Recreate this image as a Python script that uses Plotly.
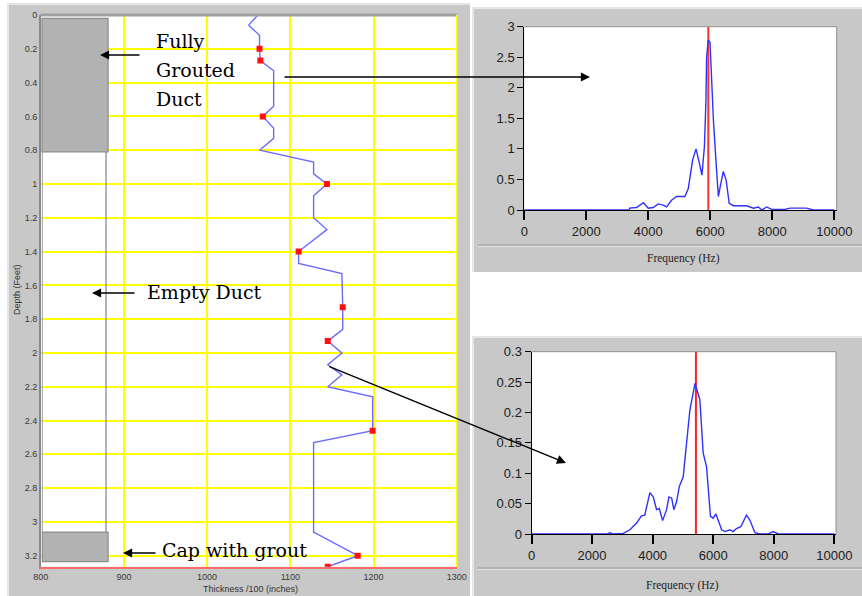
import plotly.graph_objects as go

W, H = 862, 596

# ---------------- data ----------------
depth = [0, 0.06, 0.12, 0.2, 0.27, 0.33, 0.54, 0.6, 0.67, 0.73, 0.8, 0.87, 0.94, 1.0,
         1.07, 1.2, 1.27, 1.4, 1.47, 1.53, 1.73, 1.86, 1.93, 2.0, 2.07, 2.13, 2.2, 2.26,
         2.46, 2.53, 3.06, 3.2, 3.265]
thickness = [1061, 1050, 1063, 1063, 1064, 1080, 1080, 1067, 1080, 1080, 1063, 1128, 1128, 1144,
             1128, 1128, 1144, 1110, 1110, 1162, 1163, 1163, 1145, 1162, 1145, 1162, 1145, 1199,
             1199, 1128, 1128, 1181, 1145]
marker_depth = [0.2, 0.27, 0.6, 1.0, 1.4, 1.73, 1.93, 2.46, 3.2, 3.265]
marker_thickness = [1063, 1064, 1067, 1144, 1110, 1163, 1145, 1199, 1181, 1145]

duct_x = [800, 881]
grout_top = [0.02, 0.81]
grout_cap = [3.06, 3.235]
empty_wall_x = 878.5

freq1 = [0, 3380, 3400, 3620, 3840, 4000, 4160, 4320, 4480, 4590, 4750, 4910, 5180, 5290, 5430,
         5540, 5650, 5730, 5810, 5860, 5880, 5935, 5990, 6040, 6100, 6180, 6260, 6330, 6420,
         6510, 6610, 6740, 7170, 7390, 7550, 7660, 7820, 7980, 8410, 8570, 8840, 9110, 9320, 10000]
amp1 = [0, 0, 0.03, 0.04, 0.12, 0.03, 0.04, 0.10, 0.08, 0.05, 0.16, 0.22, 0.22, 0.35, 0.82,
        1.0, 0.76, 0.57, 1.04, 1.8, 2.5, 2.78, 2.75, 2.07, 1.47, 0.82, 0.22, 0.41, 0.63,
        0.49, 0.11, 0.07, 0.07, 0.03, 0.05, 0, 0.05, 0.01, 0.01, 0.03, 0.03, 0.03, 0, 0]
peak1 = 5935

freq2 = [0, 2500, 2590, 2700, 3030, 3250, 3470, 3630, 3740, 3910, 4020, 4130, 4220, 4330, 4460,
         4540, 4630, 4700, 4790, 4880, 5010, 5120, 5230, 5400, 5560, 5670, 5780, 5910, 6000,
         6090, 6170, 6280, 6390, 6550, 6660, 6770, 6910, 7020, 7100, 7210, 7380, 7540, 7820,
         7980, 8150, 10000]
amp2 = [0, 0, 0.002, 0, 0.001, 0.007, 0.018, 0.03, 0.031, 0.068, 0.061, 0.04, 0.042, 0.022, 0.04,
        0.061, 0.059, 0.04, 0.053, 0.078, 0.094, 0.149, 0.204, 0.248, 0.221, 0.133, 0.111, 0.029,
        0.026, 0.033, 0.023, 0.007, 0.004, 0.007, 0.004, 0.009, 0.012, 0.023, 0.031, 0.023,
        0.002, 0, 0, 0.004, 0, 0]
peak2 = 5430

left_xticks = [800, 900, 1000, 1100, 1200, 1300]
left_yticks = [0, 0.2, 0.4, 0.6, 0.8, 1, 1.2, 1.4, 1.6, 1.8, 2, 2.2, 2.4, 2.6, 2.8, 3, 3.2]
freq_ticks = [0, 2000, 4000, 6000, 8000, 10000]
freq_labels = ["0", "2000", "4000", "6000", "8000", "10000"]
amp1_ticks = [0, 0.5, 1, 1.5, 2, 2.5, 3]
amp2_ticks = [0, 0.05, 0.1, 0.15, 0.2, 0.25, 0.3]

# ---------------- helpers ----------------
def px(x):
    return x / W

def py(y):
    return 1 - y / H

fig = go.Figure()

# left chart
fig.add_trace(go.Scatter(x=thickness, y=depth, mode="lines",
                         line=dict(color="#6b6bff", width=1.4), xaxis="x", yaxis="y",
                         showlegend=False, hoverinfo="skip"))
fig.add_trace(go.Scatter(x=marker_thickness, y=marker_depth, mode="markers",
                         marker=dict(color="#ff1010", size=6, symbol="square"),
                         xaxis="x", yaxis="y", showlegend=False))

# top-right spectrum
fig.add_trace(go.Scatter(x=[peak1, peak1], y=[0, 3], mode="lines",
                         line=dict(color="#ff3030", width=2), xaxis="x2", yaxis="y2",
                         showlegend=False))
fig.add_trace(go.Scatter(x=freq1, y=amp1, mode="lines",
                         line=dict(color="#3030ff", width=1.4), xaxis="x2", yaxis="y2",
                         showlegend=False))

# bottom-right spectrum
fig.add_trace(go.Scatter(x=[peak2, peak2], y=[0, 0.3], mode="lines",
                         line=dict(color="#ff2020", width=2), xaxis="x3", yaxis="y3",
                         showlegend=False))
fig.add_trace(go.Scatter(x=freq2, y=amp2, mode="lines",
                         line=dict(color="#3030ff", width=1.4), xaxis="x3", yaxis="y3",
                         showlegend=False))

PANEL = "#c8c8c8"
shapes = []
# panels
for (x0, y0, x1, y1) in [(7, 3, 470, 596), (472, 7, 862, 272), (472, 336, 862, 596)]:
    shapes.append(dict(type="rect", xref="paper", yref="paper", x0=px(x0), x1=px(x1),
                       y0=py(y1), y1=py(y0), fillcolor=PANEL, line=dict(width=0), layer="below"))
    shapes.append(dict(type="line", xref="paper", yref="paper", x0=px(x0), x1=px(x1),
                       y0=py(y0 + 1), y1=py(y0 + 1), line=dict(color="#e6e6e6", width=2), layer="below"))
    shapes.append(dict(type="line", xref="paper", yref="paper", x0=px(x0 + 1), x1=px(x0 + 1),
                       y0=py(y1), y1=py(y0), line=dict(color="#e6e6e6", width=2), layer="below"))
# white plot areas (over the panels)
for (x0, y0, x1, y1) in [(40.7, 15, 456.7, 566.7), (524.3, 26.7, 836.7, 210),
                         (531.5, 351.7, 836, 534)]:
    shapes.append(dict(type="rect", xref="paper", yref="paper", x0=px(x0), x1=px(x1),
                       y0=py(y1), y1=py(y0), fillcolor="white", line=dict(width=0), layer="below"))
# separators under spectrum plots
for ysep in [245, 568]:
    shapes.append(dict(type="line", xref="paper", yref="paper", x0=px(478), x1=px(862),
                       y0=py(ysep), y1=py(ysep), line=dict(color="#9a9a9a", width=1), layer="below"))
    shapes.append(dict(type="line", xref="paper", yref="paper", x0=px(478), x1=px(862),
                       y0=py(ysep + 1.5), y1=py(ysep + 1.5), line=dict(color="#e2e2e2", width=1), layer="below"))

# left chart borders
shapes.append(dict(type="line", xref="x domain", yref="y domain", x0=0, x1=1, y0=1, y1=1,
                   line=dict(color="#a0a0a0", width=3)))
shapes.append(dict(type="line", xref="x domain", yref="y domain", x0=1, x1=1, y0=0, y1=1,
                   line=dict(color="#ffff00", width=1.5)))
# duct drawing
shapes.append(dict(type="rect", xref="x", yref="y", x0=duct_x[0] + 1.5, x1=duct_x[1],
                   y0=grout_top[0], y1=grout_top[1], fillcolor="#b2b2b2",
                   line=dict(color="#8c8c8c", width=1.2)))
shapes.append(dict(type="line", xref="x", yref="y", x0=empty_wall_x, x1=empty_wall_x,
                   y0=grout_top[1], y1=grout_cap[0], line=dict(color="#808080", width=1.2)))
shapes.append(dict(type="line", xref="x", yref="y", x0=duct_x[0] + 2, x1=duct_x[0] + 2,
                   y0=grout_top[1], y1=grout_cap[0], line=dict(color="#a0a0a0", width=1)))
shapes.append(dict(type="rect", xref="x", yref="y", x0=duct_x[0] + 2, x1=duct_x[1],
                   y0=grout_cap[0], y1=grout_cap[1], fillcolor="#b2b2b2",
                   line=dict(color="#8c8c8c", width=1.2)))
# spectrum plot borders (top/right inset)
for xa, ya in [("x2", "y2"), ("x3", "y3")]:
    shapes.append(dict(type="line", xref=xa + " domain", yref=ya + " domain", x0=0, x1=1, y0=1, y1=1,
                       line=dict(color="#909090", width=1)))
    shapes.append(dict(type="line", xref=xa + " domain", yref=ya + " domain", x0=1, x1=1, y0=0, y1=1,
                       line=dict(color="#909090", width=1)))

annotations = []
serif = dict(family="DejaVu Serif", size=19, color="black")
for text, x, y in [("Fully", 154, 41), ("Grouted", 154, 70), ("Duct", 154, 99),
                   ("Empty Duct", 145, 292), ("Cap with grout", 160, 550)]:
    annotations.append(dict(text=text, x=px(x), y=py(y), xref="paper", yref="paper",
                            xanchor="left", yanchor="middle", showarrow=False, font=serif))

for (hx, hy, tx, ty) in [(100, 55, 141, 55), (590, 77, 283, 77), (92, 293, 136, 293),
                         (123, 553, 157, 553), (566, 463, 328, 366)]:
    annotations.append(dict(text="", x=px(hx), y=py(hy), xref="paper", yref="paper",
                            ax=tx - hx, ay=ty - hy, showarrow=True, arrowhead=2,
                            arrowsize=1.3, arrowwidth=1.4, arrowcolor="black", standoff=0))

small = dict(family="Liberation Sans", size=9, color="#333333")
annotations.append(dict(text="Thickness /100 (inches)", x=px(250), y=py(589), xref="paper",
                        yref="paper", showarrow=False, font=small, xanchor="center", yanchor="middle"))
annotations.append(dict(text="Depth (Feet)", x=px(17), y=py(290), xref="paper", yref="paper",
                        showarrow=False, font=small, textangle=-90, xanchor="center", yanchor="middle"))
freq_font = dict(family="Liberation Serif", size=11.5, color="#222222")
annotations.append(dict(text="Frequency (Hz)", x=px(683), y=py(258), xref="paper", yref="paper",
                        showarrow=False, font=freq_font, xanchor="center", yanchor="middle"))
annotations.append(dict(text="Frequency (Hz)", x=px(682), y=py(585), xref="paper", yref="paper",
                        showarrow=False, font=freq_font, xanchor="center", yanchor="middle"))

tickfont_left = dict(family="Liberation Sans", size=9, color="#3a3a3a")
tickfont_right = dict(family="Liberation Sans", size=13, color="#202020")

fig.update_layout(
    width=W, height=H, margin=dict(l=0, r=0, t=0, b=0, autoexpand=False),
    paper_bgcolor="white", plot_bgcolor="white", showlegend=False,
    shapes=shapes, annotations=annotations,
    xaxis=dict(domain=[px(40.7), px(456.7)], range=[800, 1300], tickvals=left_xticks,
               showgrid=True, gridcolor="#ffff00", gridwidth=1.5, zeroline=False,
               showline=True, linecolor="#ff6a6a", linewidth=2, ticks="",
               tickfont=tickfont_left, anchor="y", fixedrange=True, automargin=False),
    yaxis=dict(domain=[py(566.7), py(15)], range=[3.265, 0], tickvals=left_yticks,
               showgrid=True, gridcolor="#ffff00", gridwidth=1.5, zeroline=False,
               showline=True, linecolor="#8a8a8a", linewidth=1.5, ticks="",
               tickfont=tickfont_left, anchor="x", fixedrange=True, automargin=False),
    xaxis2=dict(domain=[px(524.3), px(836.7)], range=[0, 10077], tickvals=freq_ticks,
                ticktext=freq_labels,
                showgrid=False, zeroline=False, showline=True, linecolor="black", linewidth=1,
                ticks="outside", ticklen=9, tickcolor="black", tickwidth=1.5,
                tickfont=tickfont_right, anchor="y2", fixedrange=True, automargin=False),
    yaxis2=dict(domain=[py(210), py(26.7)], range=[0, 3], tickvals=amp1_ticks,
                showgrid=False, zeroline=False, showline=True, linecolor="black", linewidth=1,
                ticks="outside", ticklen=6, tickcolor="black", tickwidth=1.2,
                tickfont=tickfont_right, anchor="x2", fixedrange=True, automargin=False),
    xaxis3=dict(domain=[px(531.5), px(836)], range=[0, 10056], tickvals=freq_ticks,
                ticktext=freq_labels,
                showgrid=False, zeroline=False, showline=True, linecolor="black", linewidth=1,
                ticks="outside", ticklen=9, tickcolor="black", tickwidth=1.5,
                tickfont=tickfont_right, anchor="y3", fixedrange=True, automargin=False),
    yaxis3=dict(domain=[py(534), py(351.7)], range=[0, 0.3], tickvals=amp2_ticks,
                showgrid=False, zeroline=False, showline=True, linecolor="black", linewidth=1,
                ticks="outside", ticklen=6, tickcolor="black", tickwidth=1.2,
                tickfont=tickfont_right, anchor="x3", fixedrange=True, automargin=False),
)

fig.write_html("out.html")
